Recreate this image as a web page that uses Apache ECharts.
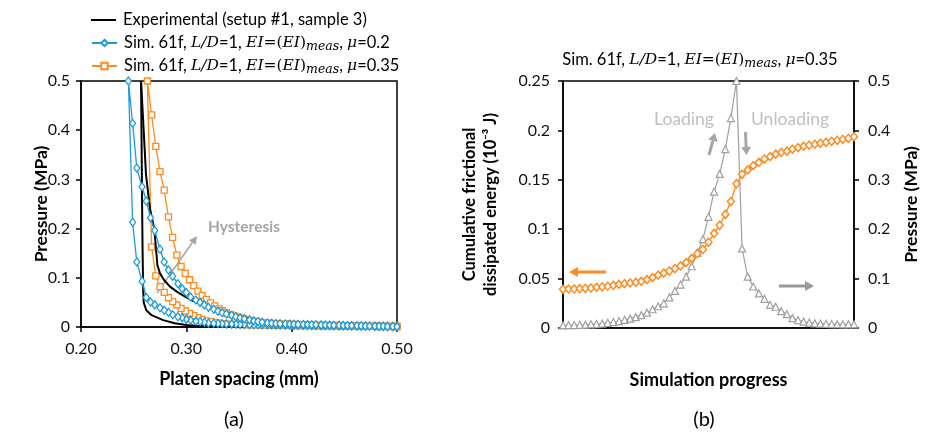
<!DOCTYPE html>
<html>
<head>
<meta charset="utf-8">
<script src="https://cdn.jsdelivr.net/npm/echarts/dist/echarts.min.js"></script>
<style>
html,body{margin:0;padding:0;background:#fff;}
#c{width:928px;height:437px;}
</style>
</head>
<body>
<div id="c"></div>
<script>
// ---------- DATA: panel (a) ----------
// Experimental (setup #1, sample 3): loading and unloading branches
const expLoadX = [0.356, 0.33, 0.31, 0.30, 0.289, 0.278, 0.267, 0.262, 0.2595, 0.259, 0.2585, 0.258, 0.2575, 0.257];
const expLoadP = [0.0, 0.001, 0.0025, 0.004, 0.0075, 0.014, 0.024, 0.034, 0.05, 0.08, 0.15, 0.25, 0.38, 0.5];
const expUnlX = [0.257, 0.2595, 0.2617, 0.2655, 0.2695, 0.2712, 0.2725, 0.275, 0.2788, 0.2845, 0.2909, 0.2988, 0.3067, 0.316, 0.3256, 0.335, 0.346, 0.357, 0.37, 0.38, 0.40, 0.42];
const expUnlP = [0.5, 0.4, 0.31, 0.24, 0.2, 0.16, 0.126, 0.109, 0.0955, 0.082, 0.0718, 0.0616, 0.0528, 0.0447, 0.038, 0.031, 0.0244, 0.0176, 0.0108, 0.006, 0.003, 0.001];

// Sim. 61f, mu = 0.2 (blue diamonds)
const blueX = [0.245,0.249,0.253,0.258,0.262,0.266,0.270,0.275,0.279,0.283,0.287,0.292,0.296,0.300,0.304,0.309,0.313,0.317,0.321,0.326,0.330,0.334,0.338,0.343,0.347,0.351,0.355,0.360,0.364,0.368,0.372,0.377,0.381,0.385,0.389,0.394,0.398,0.402,0.406,0.411,0.415,0.419,0.423,0.428,0.432,0.436,0.440,0.445,0.449,0.453,0.457,0.462,0.466,0.470,0.474,0.479,0.483,0.487,0.491,0.496,0.500];
const blueLoadP = [0.5,0.213,0.132,0.093,0.060,0.051,0.045,0.039,0.034,0.030,0.025,0.021,0.019,0.016,0.014,0.012,0.011,0.0095,0.008,0.0075,0.007,0.0065,0.006,0.0058,0.0055,0.0052,0.005,0.0048,0.0046,0.0045,0.0043,0.0042,0.004,0.0039,0.0038,0.0036,0.0035,0.0034,0.0033,0.0031,0.003,0.0029,0.0028,0.0027,0.0026,0.0025,0.0024,0.0023,0.0022,0.0021,0.002,0.0019,0.0018,0.0017,0.0016,0.0015,0.0014,0.0013,0.0012,0.001,0.0008];
const blueUnlP = [0.5,0.414,0.323,0.285,0.256,0.222,0.196,0.158,0.132,0.116,0.103,0.088,0.078,0.070,0.061,0.055,0.050,0.045,0.040,0.036,0.032,0.029,0.0265,0.024,0.021,0.0185,0.0165,0.0145,0.0125,0.011,0.0095,0.0082,0.0075,0.007,0.0066,0.0062,0.0058,0.0055,0.0052,0.005,0.0048,0.0046,0.0044,0.0042,0.004,0.0038,0.0036,0.0034,0.0032,0.003,0.0028,0.0026,0.0024,0.0022,0.002,0.0018,0.0016,0.0014,0.0012,0.001,0.0008];

// Sim. 61f, mu = 0.35 (orange squares)
const orangeX = [0.263,0.267,0.271,0.275,0.279,0.283,0.287,0.291,0.295,0.299,0.303,0.307,0.311,0.315,0.319,0.323,0.327,0.331,0.334,0.338,0.342,0.346,0.350,0.354,0.358,0.362,0.366,0.370,0.374,0.378,0.382,0.386,0.390,0.394,0.398,0.402,0.406,0.410,0.413,0.417,0.421,0.425,0.429,0.433,0.437,0.441,0.445,0.449,0.453,0.457,0.461,0.465,0.469,0.473,0.477,0.481,0.484,0.488,0.492,0.496,0.500];
const orangeLoadP = [0.5,0.163,0.104,0.082,0.0705,0.0596,0.0515,0.0447,0.038,0.0325,0.0278,0.023,0.019,0.0156,0.0125,0.011,0.0095,0.008,0.007,0.006,0.0055,0.0052,0.005,0.0048,0.0046,0.0044,0.0042,0.004,0.0038,0.0036,0.0035,0.0034,0.0033,0.0032,0.0031,0.003,0.0029,0.0028,0.0027,0.0026,0.0025,0.0024,0.0023,0.0022,0.0021,0.002,0.0019,0.0018,0.0017,0.0016,0.0015,0.0014,0.0013,0.0012,0.0011,0.001,0.0009,0.0008,0.0007,0.0006,0.0005];
const orangeUnlP = [0.5,0.431,0.367,0.316,0.278,0.224,0.182,0.146,0.123,0.109,0.096,0.084,0.073,0.064,0.056,0.049,0.043,0.037,0.033,0.029,0.025,0.022,0.0195,0.0175,0.015,0.013,0.0115,0.010,0.009,0.008,0.0075,0.007,0.0065,0.006,0.0057,0.0054,0.0051,0.0048,0.0046,0.0044,0.0042,0.004,0.0038,0.0036,0.0034,0.0032,0.003,0.0028,0.0027,0.0026,0.0025,0.0024,0.0023,0.0022,0.0021,0.002,0.0019,0.0018,0.0017,0.0016,0.0015];

const xTicksA = [0.2, 0.5, 0.1];   // min, max, step of platen spacing axis
const yTicksA = [0, 0.5, 0.1];

// ---------- DATA: panel (b) ----------
const energy = [0.0392,0.0395,0.0395,0.0398,0.0402,0.0405,0.0411,0.0417,0.0423,0.0432,0.0442,0.0449,0.0456,0.0462,0.0472,0.049,0.051,0.0535,0.0555,0.0577,0.0602,0.0628,0.0662,0.0705,0.0752,0.0795,0.0868,0.0958,0.104,0.115,0.128,0.146,0.1556,0.160,0.1643,0.1677,0.171,0.1734,0.176,0.1778,0.179,0.181,0.1825,0.184,0.185,0.186,0.187,0.188,0.189,0.190,0.191,0.192,0.1936];
const pressureB = [0.0055,0.006,0.006,0.0065,0.0068,0.0075,0.008,0.009,0.0105,0.012,0.014,0.0165,0.019,0.022,0.026,0.031,0.038,0.044,0.050,0.062,0.075,0.088,0.104,0.125,0.152,0.18,0.225,0.276,0.312,0.362,0.425,0.5,0.161,0.104,0.084,0.070,0.059,0.047,0.043,0.034,0.028,0.020,0.016,0.013,0.011,0.0095,0.009,0.0085,0.008,0.0078,0.0075,0.0075,0.0075];
const steps = energy.map((_, i) => String(i + 1));
const yTicksBL = [0, 0.25, 0.05];
const yTicksBR = [0, 0.5, 0.1];

// ---------- styling ----------
const F = 'Lato, "Open Sans", sans-serif';
const ORANGE = '#ff8a1f';
const BLUE = '#1e9ad8';
const GRAY = '#a0a0a0';

function loop(xs, load, unl) {
  const d = [];
  for (let i = xs.length - 1; i >= 0; i--) d.push([xs[i], load[i]]);
  for (let i = 1; i < xs.length; i++) d.push([xs[i], unl[i]]);
  return d;
}
function pairs(xs, ys) { return xs.map((x, i) => [x, ys[i]]); }

const rich = {
  i: { fontFamily: 'DejaVu Serif', fontStyle: 'italic', fontSize: 15.5, lineHeight: 20, color: '#000' },
  m: { fontFamily: 'DejaVu Serif', fontSize: 15.5, lineHeight: 20, color: '#000' },
  s: { fontFamily: 'DejaVu Serif', fontStyle: 'italic', fontSize: 12.5, lineHeight: 12, verticalAlign: 'bottom', color: '#000' },
  t: { fontFamily: F, fontSize: 16.5, lineHeight: 20, color: '#000' }
};
const simLabel = mu => '{t|Sim. 61f, }{i|L/D}{t|=1, }{i|EI}{m|=(}{i|EI}{m|)}{s|meas}{t|, }{i|μ}{t|=' + mu + '}';
const legendNames = {
  exp: '{t|Experimental (setup #1, sample 3)}',
  mu02: simLabel('0.2'),
  mu035: simLabel('0.35')
};

function arrow(x1, y1, x2, y2, color, w, hl, hw) {
  const a = Math.atan2(y2 - y1, x2 - x1), c = Math.cos(a), s = Math.sin(a);
  const bx = x2 - hl * c, by = y2 - hl * s;
  return [
    { type: 'line', silent: true, shape: { x1, y1, x2: bx, y2: by }, style: { stroke: color, lineWidth: w } },
    { type: 'polygon', silent: true, shape: { points: [[x2, y2], [bx - hw * s, by + hw * c], [bx + hw * s, by - hw * c]] }, style: { fill: color } }
  ];
}

const axisLabelStyle = { fontFamily: F, fontSize: 16, color: '#111' };
const axisLineStyle = { show: true, lineStyle: { color: '#000', width: 1.5 } };
const nameStyle = { fontFamily: F, fontSize: 17.5, fontWeight: 'bold', color: '#000' };

const legendBase = {
  orient: 'vertical', left: 86, itemWidth: 25, itemHeight: 8,
  formatter: n => legendNames[n],
  textStyle: { fontFamily: F, fontSize: 16.5, lineHeight: 20, color: '#000', rich: rich, padding: [0, 0, 0, 2] }
};

const option = {
  animation: false,
  backgroundColor: '#fff',
  legend: [
    Object.assign({}, legendBase, { data: [{ name: 'exp', icon: 'rect', itemStyle: { color: '#000', borderWidth: 0 } }], top: 5, itemHeight: 2 }),
    Object.assign({}, legendBase, { data: ['mu02'], top: 28 }),
    Object.assign({}, legendBase, { data: ['mu035'], top: 51 })
  ],
  grid: [
    { left: 81, top: 81, width: 316, height: 246, show: true, borderColor: '#000', borderWidth: 1.5, backgroundColor: 'transparent' },
    { left: 563, top: 81, width: 291, height: 247, show: true, borderColor: '#000', borderWidth: 1.5, backgroundColor: 'transparent' }
  ],
  xAxis: [
    { type: 'value', gridIndex: 0, min: xTicksA[0], max: xTicksA[1], interval: xTicksA[2],
      axisLine: axisLineStyle, axisTick: { show: true, length: 5, lineStyle: { color: '#000', width: 1.5 } },
      splitLine: { show: false },
      axisLabel: Object.assign({ formatter: v => v.toFixed(2), margin: 14 }, axisLabelStyle),
      name: 'Platen spacing (mm)', nameLocation: 'middle', nameGap: 43, nameTextStyle: Object.assign({}, nameStyle, { fontSize: 18 }) },
    { type: 'category', gridIndex: 1, data: steps, boundaryGap: false,
      axisLine: axisLineStyle, axisTick: { show: false }, axisLabel: { show: false }, splitLine: { show: false },
      name: 'Simulation progress', nameLocation: 'middle', nameGap: 43, nameTextStyle: Object.assign({}, nameStyle, { fontSize: 18 }) }
  ],
  yAxis: [
    { type: 'value', gridIndex: 0, min: yTicksA[0], max: yTicksA[1], interval: yTicksA[2],
      axisLine: axisLineStyle, axisTick: { show: true, length: 5, lineStyle: { color: '#000', width: 1.5 } },
      splitLine: { show: false }, axisLabel: Object.assign({ margin: 11 }, axisLabelStyle),
      name: 'Pressure (MPa)', nameLocation: 'middle', nameRotate: 90, nameGap: 31, nameMoveOverlap: false, nameTextStyle: nameStyle },
    { type: 'value', gridIndex: 1, position: 'left', min: yTicksBL[0], max: yTicksBL[1], interval: yTicksBL[2],
      axisLine: axisLineStyle, axisTick: { show: true, length: 5, lineStyle: { color: '#000', width: 1.5 } },
      splitLine: { show: false }, axisLabel: Object.assign({ margin: 13 }, axisLabelStyle),
      name: 'Cumulative frictional\ndissipated energy (10⁻³ J)', nameLocation: 'middle', nameRotate: 90, nameGap: 62,
      nameTextStyle: Object.assign({}, nameStyle, { lineHeight: 21, fontSize: 16.5 }) },
    { type: 'value', gridIndex: 1, position: 'right', min: yTicksBR[0], max: yTicksBR[1], interval: yTicksBR[2],
      axisLine: axisLineStyle, axisTick: { show: true, length: 5, lineStyle: { color: '#000', width: 1.5 } },
      splitLine: { show: false }, axisLabel: Object.assign({ margin: 14 }, axisLabelStyle),
      name: 'Pressure (MPa)', nameLocation: 'middle', nameRotate: 90, nameGap: 48, nameTextStyle: nameStyle }
  ],
  series: [
    { name: 'mu035', type: 'line', xAxisIndex: 0, yAxisIndex: 0, data: loop(orangeX, orangeLoadP, orangeUnlP),
      symbol: 'rect', symbolSize: 6, showAllSymbol: true,
      itemStyle: { color: '#fff', borderColor: ORANGE, borderWidth: 1.3 }, lineStyle: { color: ORANGE, width: 1.3 }, z: 2 },
    { name: 'exp', type: 'line', xAxisIndex: 0, yAxisIndex: 0, data: pairs(expLoadX, expLoadP), symbol: 'none',
      itemStyle: { color: '#000' }, lineStyle: { color: '#000', width: 2 }, z: 3 },
    { name: 'exp', type: 'line', xAxisIndex: 0, yAxisIndex: 0, data: pairs(expUnlX, expUnlP), symbol: 'none',
      itemStyle: { color: '#000' }, lineStyle: { color: '#000', width: 2 }, z: 3 },
    { name: 'mu02', type: 'line', xAxisIndex: 0, yAxisIndex: 0, data: loop(blueX, blueLoadP, blueUnlP),
      symbol: 'diamond', symbolSize: [6, 8], showAllSymbol: true,
      itemStyle: { color: '#fff', borderColor: BLUE, borderWidth: 1.3 }, lineStyle: { color: BLUE, width: 1.3 }, z: 4 },
    { name: 'pressureB', type: 'line', xAxisIndex: 1, yAxisIndex: 2, data: pressureB,
      symbol: 'triangle', symbolSize: 7, showAllSymbol: true,
      itemStyle: { color: '#fff', borderColor: GRAY, borderWidth: 1.2 }, lineStyle: { color: GRAY, width: 1.2 }, z: 2 },
    { name: 'energy', type: 'line', xAxisIndex: 1, yAxisIndex: 1, data: energy,
      symbol: 'diamond', symbolSize: [7, 8], showAllSymbol: true,
      itemStyle: { color: '#fff', borderColor: ORANGE, borderWidth: 1.5 }, lineStyle: { color: ORANGE, width: 1.4 }, z: 3 }
  ],
  graphic: [
    { type: 'text', silent: true, x: 700, y: 60, style: { text: simLabel('0.35'), rich: rich, align: 'center', verticalAlign: 'middle', fontFamily: F, fontSize: 16.5 } },
    { type: 'text', silent: true, x: 244, y: 227, style: { text: 'Hysteresis', fill: '#a6a6a6', fontFamily: F, fontSize: 15.5, fontWeight: 'bold', align: 'center', verticalAlign: 'middle' } },
    { type: 'text', silent: true, x: 684, y: 119, style: { text: 'Loading', fill: '#bfbfbf', fontFamily: F, fontSize: 17.5, align: 'center', verticalAlign: 'middle' } },
    { type: 'text', silent: true, x: 790, y: 119, style: { text: 'Unloading', fill: '#bfbfbf', fontFamily: F, fontSize: 17.5, align: 'center', verticalAlign: 'middle' } },
    { type: 'text', silent: true, x: 234, y: 420, style: { text: '(a)', fill: '#000', fontFamily: F, fontSize: 20, align: 'center', verticalAlign: 'middle' } },
    { type: 'text', silent: true, x: 704, y: 420, style: { text: '(b)', fill: '#000', fontFamily: F, fontSize: 20, align: 'center', verticalAlign: 'middle' } },
    ...arrow(157, 293, 197, 236, '#a6a6a6', 1.5, 8, 4),
    ...arrow(709, 155, 715, 133, '#a6a6a6', 3, 8, 5),
    ...arrow(745.5, 132, 746.5, 155, '#a6a6a6', 3, 8, 5),
    ...arrow(606, 272, 569, 272, ORANGE, 3, 9, 5),
    ...arrow(779, 286, 814, 286, '#999999', 3, 9, 5)
  ]
};

const chart = echarts.init(document.getElementById('c'), null, { renderer: 'canvas' });
chart.setOption(option);
</script>
</body>
</html>
